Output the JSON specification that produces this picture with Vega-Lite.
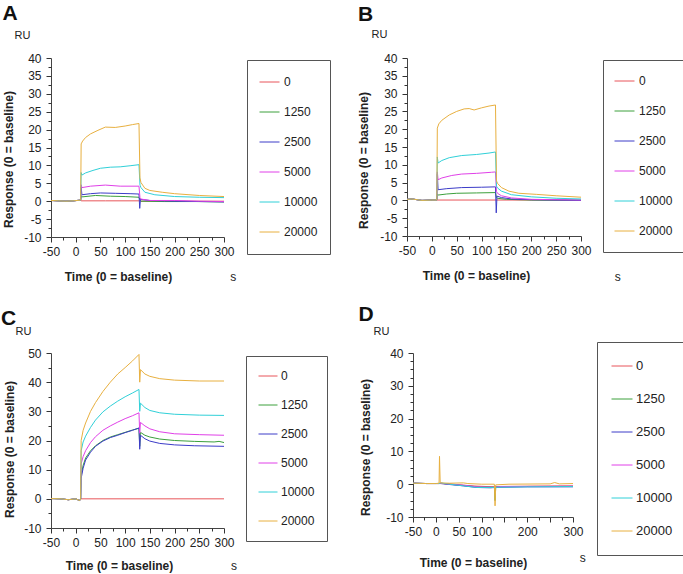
{
"$schema": "https://vega.github.io/schema/vega-lite/v6.json",
"autosize": {"type": "none"},
"padding": {"left": 51, "top": 58, "right": 632, "bottom": 516},
"background": "white",
"config": {
  "view": {"stroke": null},
  "font": "Liberation Sans",
  "axis": {"grid": false, "ticks": true, "tickOpacity": 1, "domainColor": "#444", "tickColor": "#333", "labelColor": "#222", "labelFont": "Liberation Sans", "labelFontSize": 12, "titleFont": "Liberation Sans", "titleFontSize": 12, "titleFontWeight": "bold", "titleColor": "#222", "labelOverlap": false, "labelFlush": false, "labelBound": false, "domainWidth": 1, "tickWidth": 1},
  "legend": {"labelFont": "Liberation Sans", "labelColor": "#222", "strokeColor": "#555", "fillColor": "white", "symbolType": "stroke", "symbolStrokeWidth": 1},
  "line": {"strokeWidth": 1}
},
"data": {"values": [
{"p":"A","c":"0","t":-50,"v":0.2},{"p":"A","c":"0","t":-35,"v":0.1},{"p":"A","c":"0","t":-20,"v":0},{"p":"A","c":"0","t":-5,"v":0.1},{"p":"A","c":"0","t":10,"v":0.3},{"p":"A","c":"0","t":11,"v":0.1},{"p":"A","c":"0","t":60,"v":0.1},{"p":"A","c":"0","t":128,"v":0.1},{"p":"A","c":"0","t":131,"v":0},{"p":"A","c":"0","t":200,"v":0},{"p":"A","c":"0","t":300,"v":0},
{"p":"A","c":"1250","t":-50,"v":0.2},{"p":"A","c":"1250","t":-35,"v":0.1},{"p":"A","c":"1250","t":-20,"v":0},{"p":"A","c":"1250","t":-5,"v":0.1},{"p":"A","c":"1250","t":10,"v":0.3},{"p":"A","c":"1250","t":11.5,"v":1.5},{"p":"A","c":"1250","t":13,"v":1.2},{"p":"A","c":"1250","t":40,"v":1.6},{"p":"A","c":"1250","t":70,"v":1.4},{"p":"A","c":"1250","t":100,"v":1.3},{"p":"A","c":"1250","t":128,"v":1.1},{"p":"A","c":"1250","t":130,"v":0.3},{"p":"A","c":"1250","t":132,"v":0},{"p":"A","c":"1250","t":180,"v":-0.1},{"p":"A","c":"1250","t":250,"v":-0.1},{"p":"A","c":"1250","t":300,"v":-0.2},
{"p":"A","c":"2500","t":-50,"v":0.2},{"p":"A","c":"2500","t":-35,"v":0.1},{"p":"A","c":"2500","t":-20,"v":0},{"p":"A","c":"2500","t":-5,"v":0.1},{"p":"A","c":"2500","t":10,"v":0.3},{"p":"A","c":"2500","t":11,"v":4.0},{"p":"A","c":"2500","t":12.5,"v":1.8},{"p":"A","c":"2500","t":30,"v":2.1},{"p":"A","c":"2500","t":50,"v":2.3},{"p":"A","c":"2500","t":80,"v":2.2},{"p":"A","c":"2500","t":110,"v":2.1},{"p":"A","c":"2500","t":128,"v":2.0},{"p":"A","c":"2500","t":129.5,"v":-2.0},{"p":"A","c":"2500","t":131,"v":0.5},{"p":"A","c":"2500","t":150,"v":0.2},{"p":"A","c":"2500","t":200,"v":0},{"p":"A","c":"2500","t":250,"v":-0.1},{"p":"A","c":"2500","t":300,"v":-0.2},
{"p":"A","c":"5000","t":-50,"v":0.2},{"p":"A","c":"5000","t":-35,"v":0.1},{"p":"A","c":"5000","t":-20,"v":0},{"p":"A","c":"5000","t":-5,"v":0.1},{"p":"A","c":"5000","t":10,"v":0.3},{"p":"A","c":"5000","t":11,"v":4.6},{"p":"A","c":"5000","t":12.5,"v":3.8},{"p":"A","c":"5000","t":30,"v":4.2},{"p":"A","c":"5000","t":60,"v":4.5},{"p":"A","c":"5000","t":90,"v":4.2},{"p":"A","c":"5000","t":128,"v":4.2},{"p":"A","c":"5000","t":130,"v":1.0},{"p":"A","c":"5000","t":132,"v":0.6},{"p":"A","c":"5000","t":150,"v":0.2},{"p":"A","c":"5000","t":200,"v":0.2},{"p":"A","c":"5000","t":250,"v":0},{"p":"A","c":"5000","t":300,"v":-0.1},
{"p":"A","c":"10000","t":-50,"v":0.2},{"p":"A","c":"10000","t":-35,"v":0.1},{"p":"A","c":"10000","t":-20,"v":0},{"p":"A","c":"10000","t":-5,"v":0.1},{"p":"A","c":"10000","t":10,"v":0.3},{"p":"A","c":"10000","t":11,"v":8.0},{"p":"A","c":"10000","t":12.5,"v":7.3},{"p":"A","c":"10000","t":20,"v":7.9},{"p":"A","c":"10000","t":35,"v":8.6},{"p":"A","c":"10000","t":50,"v":9.2},{"p":"A","c":"10000","t":70,"v":9.5},{"p":"A","c":"10000","t":90,"v":9.6},{"p":"A","c":"10000","t":110,"v":9.9},{"p":"A","c":"10000","t":128,"v":10.2},{"p":"A","c":"10000","t":130,"v":4.5},{"p":"A","c":"10000","t":132,"v":3.8},{"p":"A","c":"10000","t":140,"v":2.5},{"p":"A","c":"10000","t":160,"v":1.8},{"p":"A","c":"10000","t":200,"v":1.3},{"p":"A","c":"10000","t":250,"v":1.1},{"p":"A","c":"10000","t":300,"v":1.0},
{"p":"A","c":"20000","t":-50,"v":0.2},{"p":"A","c":"20000","t":-35,"v":0.1},{"p":"A","c":"20000","t":-20,"v":0},{"p":"A","c":"20000","t":-5,"v":0.1},{"p":"A","c":"20000","t":10,"v":0.3},{"p":"A","c":"20000","t":11,"v":16.0},{"p":"A","c":"20000","t":14,"v":16.8},{"p":"A","c":"20000","t":20,"v":17.8},{"p":"A","c":"20000","t":30,"v":18.8},{"p":"A","c":"20000","t":45,"v":19.8},{"p":"A","c":"20000","t":60,"v":20.7},{"p":"A","c":"20000","t":80,"v":20.6},{"p":"A","c":"20000","t":100,"v":21.0},{"p":"A","c":"20000","t":115,"v":21.4},{"p":"A","c":"20000","t":128,"v":21.7},{"p":"A","c":"20000","t":130,"v":6.5},{"p":"A","c":"20000","t":132,"v":5.2},{"p":"A","c":"20000","t":140,"v":3.6},{"p":"A","c":"20000","t":150,"v":3.0},{"p":"A","c":"20000","t":175,"v":2.5},{"p":"A","c":"20000","t":200,"v":2.1},{"p":"A","c":"20000","t":250,"v":1.6},{"p":"A","c":"20000","t":300,"v":1.3},

{"p":"B","c":"0","t":-50,"v":0.3},{"p":"B","c":"0","t":-40,"v":0.4},{"p":"B","c":"0","t":-20,"v":0},{"p":"B","c":"0","t":0,"v":0.1},{"p":"B","c":"0","t":10,"v":0.1},{"p":"B","c":"0","t":128,"v":0.1},{"p":"B","c":"0","t":300,"v":0.1},
{"p":"B","c":"1250","t":-50,"v":0.3},{"p":"B","c":"1250","t":-40,"v":0.4},{"p":"B","c":"1250","t":-20,"v":0},{"p":"B","c":"1250","t":0,"v":0.1},{"p":"B","c":"1250","t":10,"v":0.1},{"p":"B","c":"1250","t":11,"v":1.8},{"p":"B","c":"1250","t":12.5,"v":1.5},{"p":"B","c":"1250","t":30,"v":1.8},{"p":"B","c":"1250","t":50,"v":2.0},{"p":"B","c":"1250","t":90,"v":2.1},{"p":"B","c":"1250","t":128,"v":2.2},{"p":"B","c":"1250","t":130,"v":0.8},{"p":"B","c":"1250","t":132,"v":0.6},{"p":"B","c":"1250","t":150,"v":0.3},{"p":"B","c":"1250","t":200,"v":0.1},{"p":"B","c":"1250","t":300,"v":0},
{"p":"B","c":"2500","t":-50,"v":0.3},{"p":"B","c":"2500","t":-40,"v":0.4},{"p":"B","c":"2500","t":-20,"v":0},{"p":"B","c":"2500","t":0,"v":0.1},{"p":"B","c":"2500","t":10,"v":0.1},{"p":"B","c":"2500","t":11,"v":7.5},{"p":"B","c":"2500","t":12.5,"v":3.0},{"p":"B","c":"2500","t":30,"v":3.3},{"p":"B","c":"2500","t":60,"v":3.6},{"p":"B","c":"2500","t":100,"v":3.7},{"p":"B","c":"2500","t":128,"v":3.8},{"p":"B","c":"2500","t":129.5,"v":-3.5},{"p":"B","c":"2500","t":131,"v":1.2},{"p":"B","c":"2500","t":140,"v":0.8},{"p":"B","c":"2500","t":160,"v":0.4},{"p":"B","c":"2500","t":200,"v":0.2},{"p":"B","c":"2500","t":300,"v":0},
{"p":"B","c":"5000","t":-50,"v":0.3},{"p":"B","c":"5000","t":-40,"v":0.4},{"p":"B","c":"5000","t":-20,"v":0},{"p":"B","c":"5000","t":0,"v":0.1},{"p":"B","c":"5000","t":10,"v":0.1},{"p":"B","c":"5000","t":11,"v":8.0},{"p":"B","c":"5000","t":12.5,"v":5.8},{"p":"B","c":"5000","t":20,"v":6.3},{"p":"B","c":"5000","t":40,"v":7.0},{"p":"B","c":"5000","t":60,"v":7.4},{"p":"B","c":"5000","t":90,"v":7.6},{"p":"B","c":"5000","t":120,"v":7.9},{"p":"B","c":"5000","t":128,"v":8.0},{"p":"B","c":"5000","t":130,"v":2.5},{"p":"B","c":"5000","t":132,"v":2.0},{"p":"B","c":"5000","t":140,"v":1.3},{"p":"B","c":"5000","t":160,"v":0.7},{"p":"B","c":"5000","t":200,"v":0.3},{"p":"B","c":"5000","t":250,"v":0.2},{"p":"B","c":"5000","t":300,"v":0.1},
{"p":"B","c":"10000","t":-50,"v":0.3},{"p":"B","c":"10000","t":-40,"v":0.4},{"p":"B","c":"10000","t":-20,"v":0},{"p":"B","c":"10000","t":0,"v":0.1},{"p":"B","c":"10000","t":10,"v":0.1},{"p":"B","c":"10000","t":11,"v":12.2},{"p":"B","c":"10000","t":12.5,"v":10.5},{"p":"B","c":"10000","t":20,"v":11.2},{"p":"B","c":"10000","t":35,"v":12.0},{"p":"B","c":"10000","t":60,"v":12.6},{"p":"B","c":"10000","t":90,"v":12.9},{"p":"B","c":"10000","t":115,"v":13.3},{"p":"B","c":"10000","t":128,"v":13.6},{"p":"B","c":"10000","t":130,"v":4.0},{"p":"B","c":"10000","t":132,"v":3.5},{"p":"B","c":"10000","t":140,"v":2.6},{"p":"B","c":"10000","t":160,"v":1.6},{"p":"B","c":"10000","t":200,"v":1.0},{"p":"B","c":"10000","t":250,"v":0.6},{"p":"B","c":"10000","t":300,"v":0.4},
{"p":"B","c":"20000","t":-50,"v":0.3},{"p":"B","c":"20000","t":-40,"v":0.4},{"p":"B","c":"20000","t":-20,"v":0},{"p":"B","c":"20000","t":0,"v":0.1},{"p":"B","c":"20000","t":10,"v":0.1},{"p":"B","c":"20000","t":11,"v":20.3},{"p":"B","c":"20000","t":14,"v":21.5},{"p":"B","c":"20000","t":20,"v":22.5},{"p":"B","c":"20000","t":35,"v":24.0},{"p":"B","c":"20000","t":50,"v":25.0},{"p":"B","c":"20000","t":65,"v":25.7},{"p":"B","c":"20000","t":75,"v":25.8},{"p":"B","c":"20000","t":85,"v":25.4},{"p":"B","c":"20000","t":100,"v":26.0},{"p":"B","c":"20000","t":115,"v":26.5},{"p":"B","c":"20000","t":128,"v":26.8},{"p":"B","c":"20000","t":130,"v":5.5},{"p":"B","c":"20000","t":132,"v":4.8},{"p":"B","c":"20000","t":140,"v":3.6},{"p":"B","c":"20000","t":155,"v":2.6},{"p":"B","c":"20000","t":175,"v":2.0},{"p":"B","c":"20000","t":210,"v":1.7},{"p":"B","c":"20000","t":250,"v":1.3},{"p":"B","c":"20000","t":300,"v":0.9},

{"p":"C","c":"0","t":-50,"v":0.1},{"p":"C","c":"0","t":-30,"v":0},{"p":"C","c":"0","t":-15,"v":-0.3},{"p":"C","c":"0","t":0,"v":0},{"p":"C","c":"0","t":8,"v":-0.6},{"p":"C","c":"0","t":10,"v":0},{"p":"C","c":"0","t":300,"v":0},
{"p":"C","c":"1250","t":-50,"v":0.1},{"p":"C","c":"1250","t":-30,"v":0},{"p":"C","c":"1250","t":-15,"v":-0.3},{"p":"C","c":"1250","t":0,"v":0},{"p":"C","c":"1250","t":8,"v":-0.6},{"p":"C","c":"1250","t":10,"v":0},{"p":"C","c":"1250","t":11,"v":8.0},{"p":"C","c":"1250","t":15,"v":11.5},{"p":"C","c":"1250","t":20,"v":14.0},{"p":"C","c":"1250","t":30,"v":16.5},{"p":"C","c":"1250","t":40,"v":18.2},{"p":"C","c":"1250","t":55,"v":20.0},{"p":"C","c":"1250","t":70,"v":21.2},{"p":"C","c":"1250","t":85,"v":22.0},{"p":"C","c":"1250","t":100,"v":22.8},{"p":"C","c":"1250","t":115,"v":23.6},{"p":"C","c":"1250","t":128,"v":24.2},{"p":"C","c":"1250","t":129.5,"v":18.0},{"p":"C","c":"1250","t":131,"v":22.8},{"p":"C","c":"1250","t":140,"v":21.8},{"p":"C","c":"1250","t":150,"v":21.2},{"p":"C","c":"1250","t":170,"v":20.5},{"p":"C","c":"1250","t":200,"v":20.0},{"p":"C","c":"1250","t":240,"v":19.7},{"p":"C","c":"1250","t":280,"v":19.5},{"p":"C","c":"1250","t":290,"v":19.7},{"p":"C","c":"1250","t":300,"v":19.3},
{"p":"C","c":"2500","t":-50,"v":0.1},{"p":"C","c":"2500","t":-30,"v":0},{"p":"C","c":"2500","t":-15,"v":-0.3},{"p":"C","c":"2500","t":0,"v":0},{"p":"C","c":"2500","t":8,"v":-0.6},{"p":"C","c":"2500","t":10,"v":0},{"p":"C","c":"2500","t":11,"v":7.0},{"p":"C","c":"2500","t":15,"v":10.5},{"p":"C","c":"2500","t":20,"v":13.3},{"p":"C","c":"2500","t":30,"v":16.0},{"p":"C","c":"2500","t":40,"v":18.0},{"p":"C","c":"2500","t":55,"v":19.8},{"p":"C","c":"2500","t":70,"v":21.0},{"p":"C","c":"2500","t":85,"v":21.8},{"p":"C","c":"2500","t":100,"v":22.7},{"p":"C","c":"2500","t":115,"v":23.5},{"p":"C","c":"2500","t":128,"v":24.3},{"p":"C","c":"2500","t":129.5,"v":17.0},{"p":"C","c":"2500","t":131,"v":21.8},{"p":"C","c":"2500","t":140,"v":20.6},{"p":"C","c":"2500","t":150,"v":19.8},{"p":"C","c":"2500","t":170,"v":19.0},{"p":"C","c":"2500","t":200,"v":18.5},{"p":"C","c":"2500","t":240,"v":18.2},{"p":"C","c":"2500","t":300,"v":18.0},
{"p":"C","c":"5000","t":-50,"v":0.1},{"p":"C","c":"5000","t":-30,"v":0},{"p":"C","c":"5000","t":-15,"v":-0.3},{"p":"C","c":"5000","t":0,"v":0},{"p":"C","c":"5000","t":8,"v":-0.6},{"p":"C","c":"5000","t":10,"v":0},{"p":"C","c":"5000","t":11,"v":12.0},{"p":"C","c":"5000","t":15,"v":14.5},{"p":"C","c":"5000","t":20,"v":16.5},{"p":"C","c":"5000","t":30,"v":19.3},{"p":"C","c":"5000","t":40,"v":21.3},{"p":"C","c":"5000","t":55,"v":23.5},{"p":"C","c":"5000","t":70,"v":25.0},{"p":"C","c":"5000","t":85,"v":26.3},{"p":"C","c":"5000","t":100,"v":27.5},{"p":"C","c":"5000","t":115,"v":28.5},{"p":"C","c":"5000","t":128,"v":29.5},{"p":"C","c":"5000","t":129.5,"v":22.5},{"p":"C","c":"5000","t":131,"v":26.2},{"p":"C","c":"5000","t":140,"v":25.0},{"p":"C","c":"5000","t":150,"v":24.0},{"p":"C","c":"5000","t":170,"v":23.0},{"p":"C","c":"5000","t":200,"v":22.3},{"p":"C","c":"5000","t":250,"v":22.0},{"p":"C","c":"5000","t":300,"v":21.8},
{"p":"C","c":"10000","t":-50,"v":0.1},{"p":"C","c":"10000","t":-30,"v":0},{"p":"C","c":"10000","t":-15,"v":-0.3},{"p":"C","c":"10000","t":0,"v":0},{"p":"C","c":"10000","t":8,"v":-0.6},{"p":"C","c":"10000","t":10,"v":0},{"p":"C","c":"10000","t":11,"v":16.5},{"p":"C","c":"10000","t":15,"v":19.5},{"p":"C","c":"10000","t":20,"v":21.5},{"p":"C","c":"10000","t":30,"v":24.5},{"p":"C","c":"10000","t":40,"v":27.0},{"p":"C","c":"10000","t":55,"v":29.8},{"p":"C","c":"10000","t":70,"v":31.8},{"p":"C","c":"10000","t":85,"v":33.5},{"p":"C","c":"10000","t":100,"v":35.0},{"p":"C","c":"10000","t":115,"v":36.3},{"p":"C","c":"10000","t":128,"v":37.5},{"p":"C","c":"10000","t":129.5,"v":30.0},{"p":"C","c":"10000","t":131,"v":32.8},{"p":"C","c":"10000","t":140,"v":31.3},{"p":"C","c":"10000","t":150,"v":30.3},{"p":"C","c":"10000","t":170,"v":29.5},{"p":"C","c":"10000","t":200,"v":29.0},{"p":"C","c":"10000","t":250,"v":28.7},{"p":"C","c":"10000","t":300,"v":28.6},
{"p":"C","c":"20000","t":-50,"v":0.1},{"p":"C","c":"20000","t":-30,"v":0},{"p":"C","c":"20000","t":-15,"v":-0.3},{"p":"C","c":"20000","t":0,"v":0},{"p":"C","c":"20000","t":8,"v":-0.6},{"p":"C","c":"20000","t":10,"v":0},{"p":"C","c":"20000","t":11,"v":20.0},{"p":"C","c":"20000","t":15,"v":23.5},{"p":"C","c":"20000","t":20,"v":26.0},{"p":"C","c":"20000","t":30,"v":30.0},{"p":"C","c":"20000","t":40,"v":33.0},{"p":"C","c":"20000","t":55,"v":36.8},{"p":"C","c":"20000","t":70,"v":40.0},{"p":"C","c":"20000","t":85,"v":42.8},{"p":"C","c":"20000","t":100,"v":45.0},{"p":"C","c":"20000","t":115,"v":47.3},{"p":"C","c":"20000","t":128,"v":49.5},{"p":"C","c":"20000","t":129.5,"v":40.0},{"p":"C","c":"20000","t":131,"v":44.3},{"p":"C","c":"20000","t":140,"v":42.8},{"p":"C","c":"20000","t":150,"v":42.0},{"p":"C","c":"20000","t":170,"v":41.2},{"p":"C","c":"20000","t":200,"v":40.7},{"p":"C","c":"20000","t":250,"v":40.4},{"p":"C","c":"20000","t":300,"v":40.4},

{"p":"D","c":"0","t":-50,"v":0.3},{"p":"D","c":"0","t":-20,"v":0.2},{"p":"D","c":"0","t":0,"v":0.2},{"p":"D","c":"0","t":7,"v":0.2},{"p":"D","c":"0","t":11,"v":0.2},{"p":"D","c":"0","t":30,"v":0.1},{"p":"D","c":"0","t":60,"v":-0.3},{"p":"D","c":"0","t":90,"v":-0.6},{"p":"D","c":"0","t":128,"v":-0.8},{"p":"D","c":"0","t":140,"v":-0.7},{"p":"D","c":"0","t":200,"v":-0.6},{"p":"D","c":"0","t":300,"v":-0.5},
{"p":"D","c":"1250","t":-50,"v":0.3},{"p":"D","c":"1250","t":-20,"v":0.2},{"p":"D","c":"1250","t":0,"v":0.2},{"p":"D","c":"1250","t":7,"v":0.2},{"p":"D","c":"1250","t":11,"v":0.3},{"p":"D","c":"1250","t":30,"v":0},{"p":"D","c":"1250","t":60,"v":-0.4},{"p":"D","c":"1250","t":90,"v":-0.8},{"p":"D","c":"1250","t":128,"v":-0.9},{"p":"D","c":"1250","t":129.5,"v":-5.0},{"p":"D","c":"1250","t":131,"v":-0.8},{"p":"D","c":"1250","t":200,"v":-0.7},{"p":"D","c":"1250","t":300,"v":-0.7},
{"p":"D","c":"2500","t":-50,"v":0.3},{"p":"D","c":"2500","t":-20,"v":0.2},{"p":"D","c":"2500","t":0,"v":0.2},{"p":"D","c":"2500","t":7,"v":0.2},{"p":"D","c":"2500","t":11,"v":0.2},{"p":"D","c":"2500","t":30,"v":-0.1},{"p":"D","c":"2500","t":60,"v":-0.5},{"p":"D","c":"2500","t":90,"v":-1.0},{"p":"D","c":"2500","t":120,"v":-1.1},{"p":"D","c":"2500","t":128,"v":-1.0},{"p":"D","c":"2500","t":140,"v":-0.9},{"p":"D","c":"2500","t":200,"v":-0.8},{"p":"D","c":"2500","t":300,"v":-0.8},
{"p":"D","c":"5000","t":-50,"v":0.3},{"p":"D","c":"5000","t":-20,"v":0.2},{"p":"D","c":"5000","t":0,"v":0.2},{"p":"D","c":"5000","t":7,"v":0.2},{"p":"D","c":"5000","t":11,"v":0.3},{"p":"D","c":"5000","t":30,"v":0},{"p":"D","c":"5000","t":60,"v":-0.3},{"p":"D","c":"5000","t":90,"v":-0.8},{"p":"D","c":"5000","t":128,"v":-0.9},{"p":"D","c":"5000","t":140,"v":-0.7},{"p":"D","c":"5000","t":200,"v":-0.7},{"p":"D","c":"5000","t":300,"v":-0.6},
{"p":"D","c":"10000","t":-50,"v":0.3},{"p":"D","c":"10000","t":-20,"v":0.2},{"p":"D","c":"10000","t":0,"v":0.2},{"p":"D","c":"10000","t":7,"v":0.2},{"p":"D","c":"10000","t":11,"v":0.4},{"p":"D","c":"10000","t":30,"v":0},{"p":"D","c":"10000","t":60,"v":-0.5},{"p":"D","c":"10000","t":90,"v":-1.0},{"p":"D","c":"10000","t":128,"v":-1.0},{"p":"D","c":"10000","t":140,"v":-0.9},{"p":"D","c":"10000","t":200,"v":-0.8},{"p":"D","c":"10000","t":300,"v":-0.7},
{"p":"D","c":"20000","t":-50,"v":0.3},{"p":"D","c":"20000","t":-20,"v":0.2},{"p":"D","c":"20000","t":0,"v":0.2},{"p":"D","c":"20000","t":7,"v":0.3},{"p":"D","c":"20000","t":8,"v":8.5},{"p":"D","c":"20000","t":9.5,"v":0.4},{"p":"D","c":"20000","t":30,"v":0.3},{"p":"D","c":"20000","t":60,"v":0.4},{"p":"D","c":"20000","t":70,"v":0.2},{"p":"D","c":"20000","t":100,"v":0},{"p":"D","c":"20000","t":128,"v":0},{"p":"D","c":"20000","t":129.5,"v":-6.6},{"p":"D","c":"20000","t":131,"v":-0.2},{"p":"D","c":"20000","t":160,"v":0},{"p":"D","c":"20000","t":250,"v":0.1},{"p":"D","c":"20000","t":260,"v":0.5},{"p":"D","c":"20000","t":270,"v":0.1},{"p":"D","c":"20000","t":300,"v":0.2}
]},
"spacing": 295,
"bounds": "flush",
"resolve": {"scale": {"color": "independent", "x": "independent", "y": "independent"}, "legend": {"color": "independent"}},
"vconcat": [
{
"hconcat": [
{
"width": 173, "height": 179,
"resolve": {"axis": {"x": "independent", "y": "independent"}},
"layer": [
{"transform": [{"filter": "datum.p === 'A'"}],
 "mark": {"type": "line", "strokeWidth": 1},
 "encoding": {
  "x": {"field": "t", "type": "quantitative", "scale": {"domain": [-50, 300], "nice": false, "zero": false},
        "axis": {"orient": "bottom", "values": [-50,0,50,100,150,200,250,300], "labelExpr": "'' + datum.value", "ticks": true, "tickSize": 5, "tickColor": "#333", "tickWidth": 1, "labelPadding": 4, "title": "Time (0 = baseline)", "titleX": 67, "titleY": 39, "titleAlign": "center", "titleBaseline": "middle", "titleAngle": 0}},
  "y": {"field": "v", "type": "quantitative", "scale": {"domain": [-10, 40], "nice": false, "zero": false},
        "axis": {"orient": "left", "values": [-10,-5,0,5,10,15,20,25,30,35,40], "labelExpr": "'' + datum.value", "ticks": true, "tickSize": 5, "tickColor": "#333", "tickWidth": 1, "labelPadding": 5, "title": "Response (0 = baseline)", "titleX": -43, "titleY": 101, "titleAngle": -90, "titleAlign": "center", "titleBaseline": "middle"}},
  "color": {"field": "c", "type": "nominal", "scale": {"domain": ["0","1250","2500","5000","10000","20000"], "range": ["#e8555a","#3ca03c","#3c3cc8","#e040e8","#30d0d8","#e8b040"]},
        "legend": {"title": null, "orient": "none", "legendX": 196, "legendY": 2, "padding": 12, "rowPadding": 10, "clipHeight": 20, "symbolSize": 400, "labelFontSize": 12, "labelOffset": 4, "symbolType": "stroke", "strokeColor": "#555", "fillColor": "white"}}
 }},
{"data": {"values": [{}]}, "mark": {"type": "text", "fontSize": 21, "fontWeight": "bold", "color": "#111"},
 "encoding": {"x": {"datum": -133, "type": "quantitative", "axis": null}, "y": {"datum": 52.2, "type": "quantitative", "axis": null}, "text": {"value": "A"}}},
{"data": {"values": [{}]}, "mark": {"type": "text", "fontSize": 11, "color": "#222"},
 "encoding": {"x": {"datum": -107.7, "type": "quantitative", "axis": null}, "y": {"datum": 46.1, "type": "quantitative", "axis": {"orient": "left", "values": [-7.5,-2.5,2.5,7.5,12.5,17.5,22.5,27.5,32.5,37.5], "labels": false, "domain": false, "ticks": true, "tickSize": 3, "tickColor": "#333", "tickWidth": 1, "title": null}}, "text": {"value": "RU"}}},
{"data": {"values": [{}]}, "mark": {"type": "text", "fontSize": 12, "color": "#222"},
 "encoding": {"x": {"datum": 318.8, "type": "quantitative", "axis": {"orient": "bottom", "values": [-25,25,75,125,175,225,275], "labels": false, "domain": false, "ticks": true, "tickSize": 3, "tickColor": "#333", "tickWidth": 1, "title": null}}, "y": {"datum": -21.1, "type": "quantitative", "axis": null}, "text": {"value": "s"}}}
]
},
{
"width": 174, "height": 178,
"resolve": {"axis": {"x": "independent", "y": "independent"}},
"layer": [
{"transform": [{"filter": "datum.p === 'B'"}],
 "mark": {"type": "line", "strokeWidth": 1},
 "encoding": {
  "x": {"field": "t", "type": "quantitative", "scale": {"domain": [-50, 300], "nice": false, "zero": false},
        "axis": {"orient": "bottom", "values": [-50,0,50,100,150,200,250,300], "labelExpr": "'' + datum.value", "ticks": true, "tickSize": 5, "tickColor": "#333", "tickWidth": 1, "labelPadding": 4, "title": "Time (0 = baseline)", "titleX": 69, "titleY": 39, "titleAlign": "center", "titleBaseline": "middle", "titleAngle": 0}},
  "y": {"field": "v", "type": "quantitative", "scale": {"domain": [-10, 40], "nice": false, "zero": false},
        "axis": {"orient": "left", "values": [-10,-5,0,5,10,15,20,25,30,35,40], "labelExpr": "'' + datum.value", "ticks": true, "tickSize": 5, "tickColor": "#333", "tickWidth": 1, "labelPadding": 5, "title": "Response (0 = baseline)", "titleX": -44, "titleY": 102, "titleAngle": -90, "titleAlign": "center", "titleBaseline": "middle"}},
  "color": {"field": "c", "type": "nominal", "scale": {"domain": ["0","1250","2500","5000","10000","20000"], "range": ["#e8555a","#3ca03c","#3c3cc8","#e040e8","#30d0d8","#e8b040"]},
        "legend": {"title": null, "orient": "none", "legendX": 196, "legendY": 2, "padding": 11, "rowPadding": 10, "clipHeight": 20, "symbolSize": 400, "labelFontSize": 12, "labelOffset": 4, "symbolType": "stroke", "strokeColor": "#555", "fillColor": "white"}}
 }},
{"data": {"values": [{}]}, "mark": {"type": "text", "fontSize": 21, "fontWeight": "bold", "color": "#111"},
 "encoding": {"x": {"datum": -133.5, "type": "quantitative", "axis": null}, "y": {"datum": 52.1, "type": "quantitative", "axis": null}, "text": {"value": "B"}}},
{"data": {"values": [{}]}, "mark": {"type": "text", "fontSize": 11, "color": "#222"},
 "encoding": {"x": {"datum": -105.3, "type": "quantitative", "axis": null}, "y": {"datum": 46.5, "type": "quantitative", "axis": {"orient": "left", "values": [-7.5,-2.5,2.5,7.5,12.5,17.5,22.5,27.5,32.5,37.5], "labels": false, "domain": false, "ticks": true, "tickSize": 3, "tickColor": "#333", "tickWidth": 1, "title": null}}, "text": {"value": "RU"}}},
{"data": {"values": [{}]}, "mark": {"type": "text", "fontSize": 12, "color": "#222"},
 "encoding": {"x": {"datum": 373.9, "type": "quantitative", "axis": {"orient": "bottom", "values": [-25,25,75,125,175,225,275], "labels": false, "domain": false, "ticks": true, "tickSize": 3, "tickColor": "#333", "tickWidth": 1, "title": null}}, "y": {"datum": -21.5, "type": "quantitative", "axis": null}, "text": {"value": "s"}}}
]
}
],
"spacing": 183,
"bounds": "flush",
"resolve": {"scale": {"color": "independent", "x": "independent", "y": "independent"}, "legend": {"color": "independent"}}
},
{
"hconcat": [
{
"width": 173, "height": 175,
"resolve": {"axis": {"x": "independent", "y": "independent"}},
"layer": [
{"transform": [{"filter": "datum.p === 'C'"}],
 "mark": {"type": "line", "strokeWidth": 1},
 "encoding": {
  "x": {"field": "t", "type": "quantitative", "scale": {"domain": [-50, 300], "nice": false, "zero": false},
        "axis": {"orient": "bottom", "values": [-50,0,50,100,150,200,250,300], "labelExpr": "'' + datum.value", "ticks": true, "tickSize": 5, "tickColor": "#333", "tickWidth": 1, "labelPadding": 4, "title": "Time (0 = baseline)", "titleX": 68, "titleY": 37, "titleAlign": "center", "titleBaseline": "middle", "titleAngle": 0}},
  "y": {"field": "v", "type": "quantitative", "scale": {"domain": [-10, 50], "nice": false, "zero": false},
        "axis": {"orient": "left", "values": [-10,0,10,20,30,40,50], "labelExpr": "'' + datum.value", "ticks": true, "tickSize": 5, "tickColor": "#333", "tickWidth": 1, "labelPadding": 5, "title": "Response (0 = baseline)", "titleX": -42, "titleY": 96, "titleAngle": -90, "titleAlign": "center", "titleBaseline": "middle"}},
  "color": {"field": "c", "type": "nominal", "scale": {"domain": ["0","1250","2500","5000","10000","20000"], "range": ["#e8555a","#3ca03c","#3c3cc8","#e040e8","#30d0d8","#e8b040"]},
        "legend": {"title": null, "orient": "none", "legendX": 195, "legendY": 3, "padding": 12, "rowPadding": 13, "clipHeight": 16, "symbolSize": 361, "labelFontSize": 12, "labelOffset": 3, "symbolType": "stroke", "strokeColor": "#555", "fillColor": "white"}}
 }},
{"data": {"values": [{}]}, "mark": {"type": "text", "fontSize": 21, "fontWeight": "bold", "color": "#111"},
 "encoding": {"x": {"datum": -136, "type": "quantitative", "axis": null}, "y": {"datum": 61.8, "type": "quantitative", "axis": null}, "text": {"value": "C"}}},
{"data": {"values": [{}]}, "mark": {"type": "text", "fontSize": 11, "color": "#222"},
 "encoding": {"x": {"datum": -105.6, "type": "quantitative", "axis": null}, "y": {"datum": 57.2, "type": "quantitative", "axis": {"orient": "left", "values": [-5,5,15,25,35,45], "labels": false, "domain": false, "ticks": true, "tickSize": 3, "tickColor": "#333", "tickWidth": 1, "title": null}}, "text": {"value": "RU"}}},
{"data": {"values": [{}]}, "mark": {"type": "text", "fontSize": 12, "color": "#222"},
 "encoding": {"x": {"datum": 320.2, "type": "quantitative", "axis": {"orient": "bottom", "values": [-25,25,75,125,175,225,275], "labels": false, "domain": false, "ticks": true, "tickSize": 3, "tickColor": "#333", "tickWidth": 1, "title": null}}, "y": {"datum": -23, "type": "quantitative", "axis": null}, "text": {"value": "s"}}}
]
},
{
"width": 160, "height": 164,
"resolve": {"axis": {"x": "independent", "y": "independent"}},
"layer": [
{"transform": [{"filter": "datum.p === 'D'"}],
 "mark": {"type": "line", "strokeWidth": 1},
 "encoding": {
  "x": {"field": "t", "type": "quantitative", "scale": {"domain": [-50, 300], "nice": false, "zero": false},
        "axis": {"orient": "bottom", "values": [-50,0,50,100,150,200,250,300], "labelExpr": "datum.value != 150 && datum.value != 250 ? '' + datum.value : ''", "ticks": true, "tickSize": 5, "tickColor": "#333", "tickWidth": 1, "labelPadding": 4, "title": "Time (0 = baseline)", "titleX": 60, "titleY": 45.5, "titleAlign": "center", "titleBaseline": "middle", "titleAngle": 0}},
  "y": {"field": "v", "type": "quantitative", "scale": {"domain": [-10, 40], "nice": false, "zero": false},
        "axis": {"orient": "left", "values": [-10,0,10,20,30,40], "labelExpr": "'' + datum.value", "ticks": true, "tickSize": 5, "tickColor": "#333", "tickWidth": 1, "labelPadding": 5, "title": "Response (0 = baseline)", "titleX": -48, "titleY": 94, "titleAngle": -90, "titleAlign": "center", "titleBaseline": "middle"}},
  "color": {"field": "c", "type": "nominal", "scale": {"domain": ["0","1250","2500","5000","10000","20000"], "range": ["#e8555a","#3ca03c","#3c3cc8","#e040e8","#30d0d8","#e8b040"]},
        "legend": {"title": null, "orient": "none", "legendX": 184, "legendY": -11, "padding": 14, "rowPadding": 13, "clipHeight": 20, "symbolSize": 441, "labelFontSize": 13, "labelOffset": 3, "symbolType": "stroke", "strokeColor": "#555", "fillColor": "white"}}
 }},
{"data": {"values": [{}]}, "mark": {"type": "text", "fontSize": 21, "fontWeight": "bold", "color": "#111"},
 "encoding": {"x": {"datum": -152.8, "type": "quantitative", "axis": null}, "y": {"datum": 51.6, "type": "quantitative", "axis": null}, "text": {"value": "D"}}},
{"data": {"values": [{}]}, "mark": {"type": "text", "fontSize": 11, "color": "#222"},
 "encoding": {"x": {"datum": -118.9, "type": "quantitative", "axis": null}, "y": {"datum": 46.4, "type": "quantitative", "axis": {"orient": "left", "values": [-7.5,-5,-2.5,2.5,5,7.5,12.5,15,17.5,22.5,25,27.5,32.5,35,37.5], "labels": false, "domain": false, "ticks": true, "tickSize": 3, "tickColor": "#333", "tickWidth": 1, "title": null}}, "text": {"value": "RU"}}},
{"data": {"values": [{}]}, "mark": {"type": "text", "fontSize": 12, "color": "#222"},
 "encoding": {"x": {"datum": 321.3, "type": "quantitative", "axis": {"orient": "bottom", "values": [-25,25,75,125,175,225,275], "labels": false, "domain": false, "ticks": true, "tickSize": 3, "tickColor": "#333", "tickWidth": 1, "title": null}}, "y": {"datum": -22.5, "type": "quantitative", "axis": null}, "text": {"value": "s"}}}
]
}
],
"spacing": 189,
"bounds": "flush",
"resolve": {"scale": {"color": "independent", "x": "independent", "y": "independent"}, "legend": {"color": "independent"}}
}
]
}
